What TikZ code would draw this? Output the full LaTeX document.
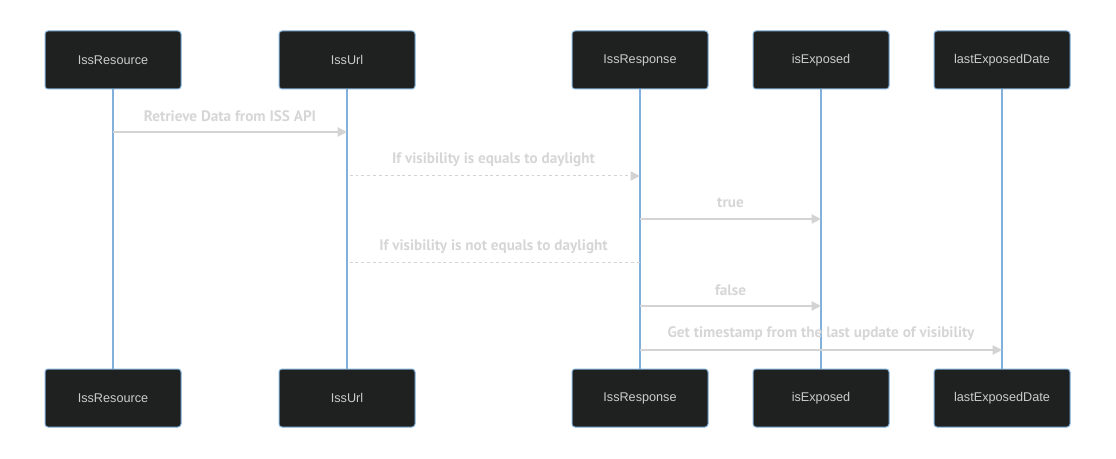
\documentclass[tikz,border=0pt]{standalone}
\usepackage{fontspec}
\setmainfont{Liberation Sans}
\newfontfamily\msgfont{PT Sans}
\usetikzlibrary{arrows.meta,calc}
\definecolor{boxfill}{HTML}{1F2020}
\definecolor{boxline}{HTML}{81B1DB}
\definecolor{msgcol}{HTML}{D3D3D3}
\definecolor{txtcol}{HTML}{CCCCCC}
\definecolor{labcol}{HTML}{D6D6D6}
\begin{document}
\begin{tikzpicture}[x=0.75pt,y=-0.75pt,
  actor/.style={draw=boxline, line width=0.75pt, fill=boxfill, rounded corners=2.2pt,
    minimum width=102pt, minimum height=43.5pt, inner sep=0pt,
    text=txtcol, font=\fontsize{9.5}{11}\selectfont},
  life/.style={draw=boxline, line width=1.4pt},
  msg/.style={draw=msgcol, line width=1.4pt, -{Triangle[length=7pt,width=6.8pt]}},
  dmsg/.style={draw=msgcol, line width=0.75pt, dash pattern=on 2.2pt off 2.2pt, -{Triangle[length=7pt,width=6.8pt]}},
  dline/.style={draw=msgcol, line width=0.75pt, dash pattern=on 2.2pt off 2.2pt},
  lab/.style={text=labcol, font=\msgfont\bfseries\fontsize{11.4}{13}\selectfont, inner sep=0pt},
]
\useasboundingbox (0,0) rectangle (1116,459);
% top actors
\node[actor] (rT) at (113,60) {IssResource};
\node[actor] (uT) at (347,60) {IssUrl};
\node[actor] (pT) at (640,60) {IssResponse};
\node[actor] (eT) at (821,60) {isExposed};
\node[actor] (dT) at (1002,60) {lastExposedDate};
% bottom actors
\node[actor] (rB) at (113,398) {IssResource};
\node[actor] (uB) at (347,398) {IssUrl};
\node[actor] (pB) at (640,398) {IssResponse};
\node[actor] (eB) at (821,398) {isExposed};
\node[actor] (dB) at (1002,398) {lastExposedDate};
% lifelines
\foreach \n in {r,u,p,e,d} \draw[life] (\n T.south) -- (\n B.north);
% message points
\coordinate (m1a) at (rT |- 0,132);
\coordinate (m1b) at (uT |- 0,132);
\coordinate (m2a) at (uT |- 0,176);
\coordinate (m2b) at (pT |- 0,176);
\coordinate (m3a) at (pT |- 0,219);
\coordinate (m3b) at (eT |- 0,219);
\coordinate (m4a) at (pT |- 0,263);
\coordinate (m4b) at (uT |- 0,263);
\coordinate (m5a) at (pT |- 0,306);
\coordinate (m5b) at (eT |- 0,306);
\coordinate (m6a) at (pT |- 0,350);
\coordinate (m6b) at (dT |- 0,350);
% messages
\draw[msg] (m1a) -- (m1b);
\draw[dmsg] ([xshift=2pt]m2a) -- (m2b);
\draw[msg] (m3a) -- (m3b);
\draw[dline] (m4a) -- ([xshift=2pt]m4b);
\draw[msg] (m5a) -- (m5b);
\draw[msg] (m6a) -- (m6b);
% labels
\node[lab] (l1) at ($(m1a)!0.5!(m1b)+(0,-16)$) {Retrieve Data from ISS API};
\node[lab] (l2) at ($(m2a)!0.5!(m2b)+(0,-16)$) {If visibility is equals to daylight};
\node[lab] (l3) at ($(m3a)!0.5!(m3b)+(0,-16)$) {true};
\node[lab] (l4) at ($(m4a)!0.5!(m4b)+(0,-16)$) {If visibility is not equals to daylight};
\node[lab] (l5) at ($(m5a)!0.5!(m5b)+(0,-16)$) {false};
\node[lab] (l6) at ($(m6a)!0.5!(m6b)+(0,-16)$) {Get timestamp from the last update of visibility};
\end{tikzpicture}
\end{document}
